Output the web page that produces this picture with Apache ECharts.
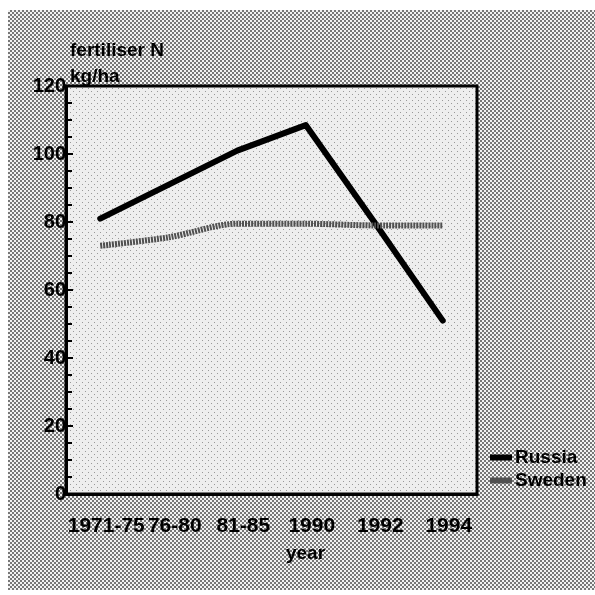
<!DOCTYPE html>
<html>
<head>
<meta charset="utf-8">
<script src="https://cdn.jsdelivr.net/npm/echarts@6/dist/echarts.min.js"></script>
<style>
  html, body { margin: 0; padding: 0; background: #fff; }
  #chart { width: 595px; height: 595px; }
</style>
</head>
<body>
<div id="chart"></div>
<script>
const years = ['1971-75', '76-80', '81-85', '1990', '1992', '1994']
const russia = [81, 91, 101, 108.5, 80, 51]
const sweden = [73, 75.5, 79.5, 79.5, 79, 79]

const FONT = 'Liberation Sans, Arial, sans-serif'

// halftone dot pattern for the page background
const makeDots = (bg, dot, size) => {
  const c = document.createElement('canvas')
  c.width = size
  c.height = size
  const ctx = c.getContext('2d')
  ctx.fillStyle = bg
  ctx.fillRect(0, 0, size, size)
  ctx.fillStyle = dot
  ctx.fillRect(0, 0, 2, 2)
  ctx.fillRect(size / 2, size / 2, 2, 2)
  return c
}

const outerDots = makeDots('#f2f2f2', '#777777', 4)
const innerDots = (() => {
  const c = document.createElement('canvas')
  c.width = 6
  c.height = 6
  const ctx = c.getContext('2d')
  ctx.fillStyle = '#eeeeee'
  ctx.fillRect(0, 0, 6, 6)
  ctx.fillStyle = '#999999'
  ctx.fillRect(1, 1, 1, 1)
  ctx.fillRect(4, 4, 1, 1)
  return c
})()

const chart = echarts.init(document.getElementById('chart'))

const option = {
  backgroundColor: '#ffffff',
  animation: false,
  graphic: [
    {
      type: 'rect',
      z: -10,
      shape: { x: 8, y: 10, width: 587, height: 580 },
      style: { fill: { image: outerDots, repeat: 'repeat' } },
      silent: true
    }
  ],
  title: {
    text: 'fertiliser N\nkg/ha',
    left: 65,
    top: 33,
    textStyle: {
      fontFamily: FONT,
      fontSize: 19,
      fontWeight: 'bold',
      color: '#000',
      lineHeight: 26
    }
  },
  legend: {
    orient: 'vertical',
    left: 485,
    top: 443,
    itemWidth: 22,
    itemHeight: 6,
    itemGap: 4,
    icon: 'rect',
    data: ['Russia', 'Sweden'],
    textStyle: {
      fontFamily: FONT,
      fontSize: 19,
      fontWeight: 'bold',
      color: '#000',
      padding: [0, 0, 0, -2]
    }
  },
  grid: {
    left: 66,
    right: 118,
    top: 86,
    bottom: 101,
    show: true,
    backgroundColor: { image: innerDots, repeat: 'repeat' },
    borderColor: '#000',
    borderWidth: 3
  },
  xAxis: {
    type: 'category',
    data: years,
    boundaryGap: true,
    name: 'year',
    nameLocation: 'middle',
    nameGap: 50,
    nameTextStyle: {
      fontFamily: FONT,
      fontSize: 19,
      fontWeight: 'bold',
      color: '#000',
      padding: [0, 0, 0, 68]
    },
    axisLine: { lineStyle: { color: '#000', width: 3 } },
    axisTick: {
      alignWithLabel: true,
      inside: true,
      length: 9,
      lineStyle: { color: '#000', width: 2 }
    },
    axisLabel: {
      interval: 0,
      margin: 22,
      fontFamily: FONT,
      fontSize: 21,
      fontWeight: 'bold',
      color: '#000',
      padding: [0, 0, 0, 12]
    },
    splitLine: { show: false }
  },
  yAxis: {
    type: 'value',
    min: 0,
    max: 120,
    interval: 20,
    axisLine: { show: true, lineStyle: { color: '#000', width: 3 } },
    axisTick: {
      show: true,
      inside: true,
      length: 7,
      lineStyle: { color: '#000', width: 2 }
    },
    minorTick: {
      show: true,
      splitNumber: 4,
      length: 6,
      lineStyle: { color: '#000', width: 2 }
    },
    axisLabel: {
      margin: 0,
      fontFamily: FONT,
      fontSize: 20,
      fontWeight: 'bold',
      color: '#000'
    },
    splitLine: { show: false }
  },
  series: [
    {
      name: 'Russia',
      type: 'line',
      data: russia,
      symbol: 'none',
      color: '#000',
      lineStyle: { color: '#000', width: 6, cap: 'round', join: 'round' }
    },
    {
      name: 'Sweden',
      type: 'line',
      data: sweden,
      symbol: 'none',
      smooth: 0.3,
      color: '#505050',
      lineStyle: { color: '#505050', width: 6, type: [2, 1] }
    }
  ]
}

chart.setOption(option)
</script>
</body>
</html>
